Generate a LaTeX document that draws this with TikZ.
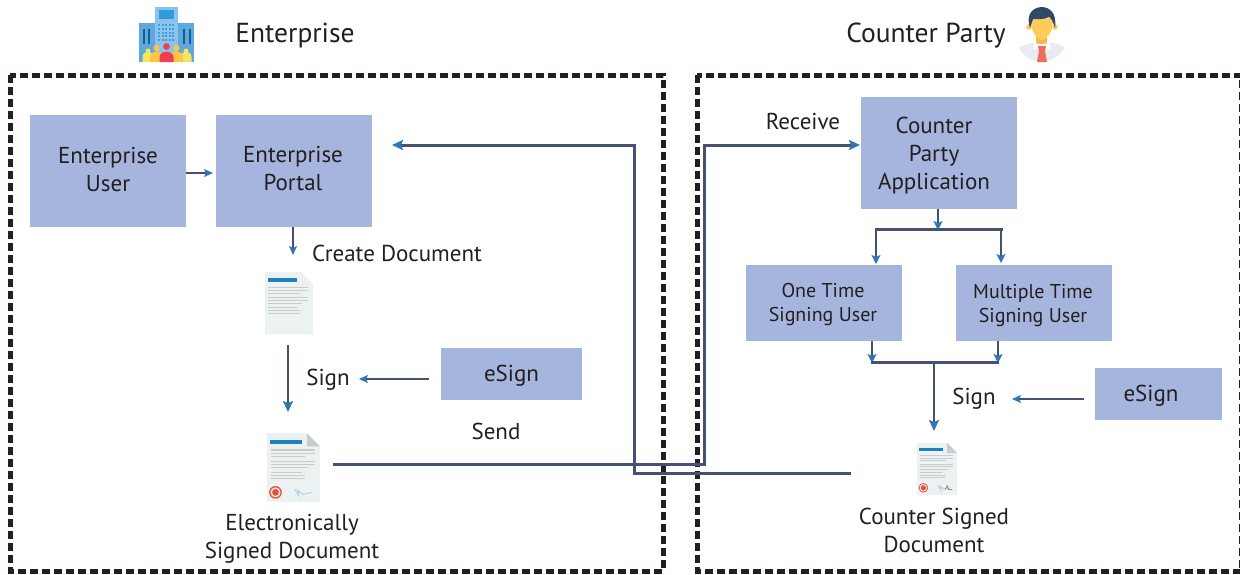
\documentclass[tikz,border=0pt]{standalone}
\usepackage{fontspec}
\setmainfont{PT Sans}
\usetikzlibrary{arrows.meta}
\definecolor{boxblue}{HTML}{A6B5DD}
\definecolor{linedark}{HTML}{465070}
\definecolor{tipblue}{HTML}{2F75B8}
\definecolor{txt}{HTML}{231F20}
\definecolor{paper}{HTML}{ECF1F1}
\definecolor{fold}{HTML}{C8CCCE}
\definecolor{rule}{HTML}{C9CDCF}
\definecolor{bar}{HTML}{1E80BF}
\definecolor{stampred}{HTML}{E8503A}
\definecolor{sigblue}{HTML}{A9CFE6}
\newcommand{\pxfont}[1]{\fontsize{#1}{28}\selectfont}
\tikzset{
  x=1pt,y=-1pt,
  hexf/.code={\definecolor{tmphex}{HTML}{#1}\pgfkeysalso{fill=tmphex}},
  bluebox/.style={fill=boxblue,draw=none,inner sep=0pt},
  lbl/.style={inner sep=0pt,align=center,text=txt,font=\pxfont{23}},
  smalllbl/.style={lbl,font=\fontsize{20}{24}\selectfont},
  headlbl/.style={lbl,font=\pxfont{27.5}},
  frame/.style={draw=txt,line width=5pt,dash pattern=on 8pt off 4pt},
  conn/.style={draw=linedark,line width=2pt,-{Stealth[inset=2pt,length=11pt,width=10pt,color=tipblue]}},
  connthin/.style={draw=linedark,line width=1.6pt,-{Stealth[inset=2pt,length=9pt,width=8pt,color=tipblue]}},
  branch/.style={draw=linedark,line width=2.4pt,-{Stealth[inset=2pt,length=9pt,width=9pt,color=tipblue]}},
  trunk/.style={draw=linedark,line width=3pt},
  trunkarrow/.style={trunk,-{Stealth[inset=2pt,length=11pt,width=10pt,color=tipblue]}},
}
% document icon in a 100x130 box: #1 x,#2 y,#3 scale, #4 1 = signed, 2 = countersigned
\newcommand{\docicon}[4]{%
\begin{scope}[shift={(#1,#2)},x=#3pt,y=-#3pt]
  \fill[paper] (0,0) -- (75,0) -- (100,25) -- (100,130) -- (0,130) -- cycle;
  \fill[bar] (6,13) rectangle (66,21);
  \foreach \ya/\xb in {31/90,37/90,43/72,52/90,58/90,64/78,73/66,79/72,85/72}
    \fill[rule] (7,\ya) rectangle (\xb,\ya+2.2);
  \ifnum#4>0
    \fill[fold] (75,0) -- (100,25) -- (75,25) -- cycle;
    \fill[stampred] (16,112) circle (12);
    \fill[paper] (16,112) circle (9.5);
    \fill[stampred] (16,112) circle (6.5);
    \draw[sigblue,line width=.8pt] (52,106) -- (60,118) -- (58,108) -- (68,116) -- (84,112);
  \fi
  \ifnum#4>1
    \draw[txt!70,line width=.5pt] (70,116) -- (76,107) -- (78,116) -- (88,116);
  \fi
\end{scope}}
\begin{document}
\begin{tikzpicture}
\useasboundingbox (0,0) rectangle (1240,574);
% frames
\draw[frame] (10,75) rectangle (663,571);
\draw[frame] (697,75) rectangle (1241.5,571);
% building icon
\fill[hexf=5FA8DC] (139,23) rectangle (194,62);
\fill[hexf=8CC3EA] (155,7) rectangle (178,62);
\fill[hexf=2F9BDC] (159,10) rectangle (174,19);
\foreach \cx in {158,161.5,165,168.5,172}
  \foreach \cy in {24,28,31.5,35,39}
    \fill[hexf=3F9FDC] (\cx,\cy) rectangle (\cx+2,\cy+2);
\foreach \cx in {143,148,183,189}
  \fill[hexf=125F96] (\cx,29) rectangle (\cx+2,44);
\foreach \cx/\r/\c/\hy in {148/4/F6E463/51,186/4/F6E463/51,156.5/5/FFC540/48,176.5/5/FFC540/48,166.5/5.5/EF3E50/46.5}{
  \fill[hexf=\c] (\cx-\r-1.5,62) -- (\cx-\r-1.5,57) .. controls (\cx-\r-1.5,50) and (\cx+\r+1.5,50) .. (\cx+\r+1.5,57) -- (\cx+\r+1.5,62) -- cycle;
  \fill[hexf=\c] (\cx,\hy) circle (\r*0.62);
}
% person icon
\fill[hexf=E8ECF1] (1019,48) .. controls (1030,40) and (1056,40) .. (1065,48) .. controls (1058,58) and (1048,62) .. (1042,62) .. controls (1034,62) and (1025,58) .. (1019,48) -- cycle;
\fill[white] (1034,42) -- (1050,42) -- (1050,50) -- (1042,47) -- (1034,50) -- cycle;
\fill[hexf=FFCC5C] (1036,34) rectangle (1047,44);
\fill[hexf=F4B94F] (1036,37) .. controls (1039,41) and (1044,41) .. (1047,37) -- (1047,41) .. controls (1044,45) and (1039,45) .. (1036,41) -- cycle;
\fill[hexf=FFCC5C] (1029,27) circle (2.8);
\fill[hexf=FFCC5C] (1055,27) circle (2.8);
\fill[hexf=FFCC5C] (1031,18) .. controls (1031,30) and (1034,38) .. (1042,38) .. controls (1050,38) and (1053,30) .. (1053,18) -- cycle;
\fill[hexf=2F4A66] (1030,28) .. controls (1026,16) and (1031,8) .. (1041,7) .. controls (1050,7) and (1057,13) .. (1055,28) .. controls (1053,22) and (1052,19) .. (1049,17) .. controls (1043,20) and (1036,19) .. (1033,19) .. controls (1032,22) and (1031,25) .. (1030,28) -- cycle;
\fill[hexf=EE6B5E] (1038,46) -- (1046,46) -- (1045,51) -- (1047,62) -- (1037,62) -- (1039,51) -- cycle;
% boxes
\node[bluebox,minimum width=156pt,minimum height=112pt] (eu) at (108,171) {};
\node[bluebox,minimum width=156pt,minimum height=112pt] (ep) at (294,171) {};
\node[bluebox,minimum width=156pt,minimum height=112pt] (cpa) at (939,153) {};
\node[bluebox,minimum width=156pt,minimum height=76pt] (one) at (824,303) {};
\node[bluebox,minimum width=156pt,minimum height=76pt] (multi) at (1034,303) {};
\node[bluebox,minimum width=141pt,minimum height=52pt] (esl) at (511.5,374) {};
\node[bluebox,minimum width=127pt,minimum height=52pt] (esr) at (1158.5,394) {};
% box texts
\node[lbl] (eut) at (108,169) {Enterprise\\User};
\node[lbl] (ept) at (293,168.5) {Enterprise\\Portal};
\node[lbl] (cpat) at (934,156) {Counter\\Party\\Application};
\node[smalllbl] (onet) at (823,304) {One Time\\Signing User};
\node[smalllbl] (multit) at (1033,305.5) {Multiple Time\\Signing User};
\node[lbl] (eslt) at (511.5,376) {eSign};
\node[lbl] (esrt) at (1151,396) {eSign};
% headings and labels
\node[headlbl] (h1) at (295,36) {Enterprise};
\node[headlbl] (h2) at (926,36) {Counter Party};
\node[lbl] (create) at (397,253) {Create Document};
\node[lbl] (sign1) at (328,380) {Sign};
\node[lbl] (send) at (496,431) {Send};
\node[lbl] (recv) at (803,121) {Receive};
\node[lbl] (sign2) at (974,399) {Sign};
\node[lbl] (esdoc) at (292,539) {Electronically\\Signed Document};
\node[lbl] (csdoc) at (934,530) {Counter Signed\\Document};
% documents
\docicon{265}{272}{.48}{0}
\docicon{267}{433}{.53}{1}
\docicon{917}{443}{.40}{2}
% anchors
\coordinate (d1b) at (288,345);
\coordinate (d2t) at (288,412);
\coordinate (d1t) at (293,255);
\coordinate (s1r) at (359,379);
\coordinate (d2r) at (333,464);
\coordinate (d3l) at (851,473);
\coordinate (s2r) at (1012,399);
\coordinate (d3t) at (934,431);
\coordinate (jn) at (934,362);
% connectors
\draw[connthin] (186,173) -- (213,173);
\draw[connthin] (293,227) -- (d1t);
\draw[conn] (d1b) -- (d2t);
\draw[connthin] (429,379) -- (s1r);
\draw[trunkarrow] (d2r) -- (704,464) -- (704,145) -- (860,145);
\draw[trunkarrow] (d3l) -- (634,473) -- (634,145) -- (392,145);
\draw[trunk] (875,229) -- (1002.5,229);
\draw[branch] (938,209) -- (938,230);
\draw[branch] (1001,229) -- (1001,263);
\draw[branch] (876,229) -- (876,264);
\draw[branch] (872,341) -- (872,363);
\draw[branch] (998,341) -- (998,363);
\draw[trunk] (871,362) -- (999,362);
\draw[conn] (jn) -- (d3t);
\draw[connthin] (1084,399) -- (s2r);
\end{tikzpicture}
\end{document}
